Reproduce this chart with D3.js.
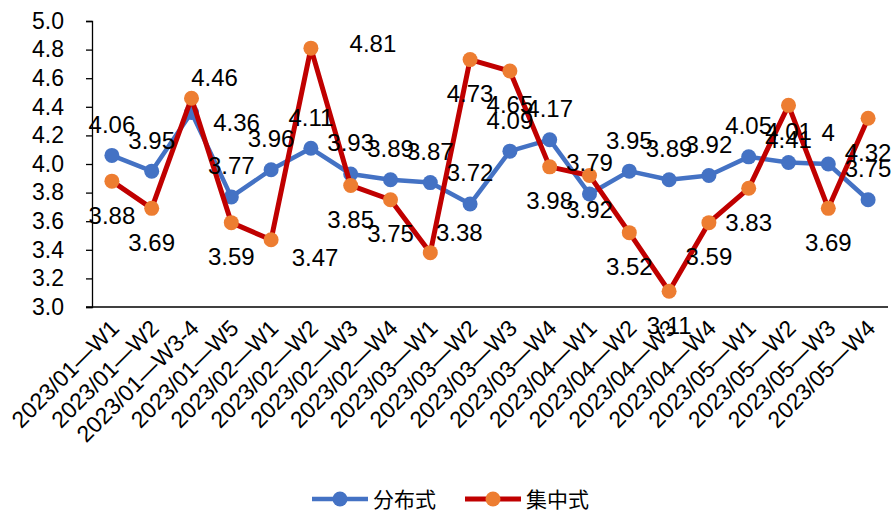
<!DOCTYPE html>
<html>
<head>
<meta charset="utf-8">
<script src="https://cdn.jsdelivr.net/npm/d3@7"></script>
<style>
  body { margin: 0; background: #fff; }
  text { font-family: "Liberation Sans", Arial, sans-serif; fill: #000; }
</style>
</head>
<body>
<svg id="chart" width="894" height="510"></svg>
<script>
// Kategorien und Werte
const categories = [
  "2023/01—W1", "2023/01—W2", "2023/01—W3-4", "2023/01—W5",
  "2023/02—W1", "2023/02—W2", "2023/02—W3", "2023/02—W4",
  "2023/03—W1", "2023/03—W2", "2023/03—W3", "2023/03—W4",
  "2023/04—W1", "2023/04—W2", "2023/04—W3", "2023/04—W4",
  "2023/05—W1", "2023/05—W2", "2023/05—W3", "2023/05—W4"
];
const fenbushi = [4.06, 3.95, 4.36, 3.77, 3.96, 4.11, 3.93, 3.89, 3.87, 3.72,
                  4.09, 4.17, 3.79, 3.95, 3.89, 3.92, 4.05, 4.01, 4, 3.75];
const jizhongshi = [3.88, 3.69, 4.46, 3.59, 3.47, 4.81, 3.85, 3.75, 3.38, 4.73,
                    4.65, 3.98, 3.92, 3.52, 3.11, 3.59, 3.83, 4.41, 3.69, 4.32];
const yTicks = [3.0, 3.2, 3.4, 3.6, 3.8, 4.0, 4.2, 4.4, 4.6, 4.8, 5.0];
const seriesNames = ["分布式", "集中式"];

const svg = d3.select("#chart");
const plot = { left: 92, right: 888, top: 21, bottom: 307 };

const x = d3.scaleBand()
  .domain(categories)
  .range([plot.left, plot.right]);

const y = d3.scaleLinear()
  .domain([3.0, 5.0])
  .range([plot.bottom, plot.top]);

const cx = d => x(d) + x.bandwidth() / 2;

// y Achse
const yAxis = svg.append("g")
  .attr("transform", `translate(${plot.left},0)`)
  .call(d3.axisLeft(y).tickValues(yTicks).tickFormat(d3.format(".1f")).tickSize(6).tickPadding(22));
yAxis.select(".domain").attr("stroke", "#000").attr("stroke-width", 1.3);
yAxis.selectAll(".tick line").attr("stroke", "#000").attr("stroke-width", 1.3);
yAxis.selectAll("text").style("font-size", "23px").attr("fill", "#000");

// x Achse
svg.append("line")
  .attr("x1", plot.left - 6).attr("x2", plot.right)
  .attr("y1", plot.bottom).attr("y2", plot.bottom)
  .attr("stroke", "#000").attr("stroke-width", 1.3);

svg.append("g").selectAll("text")
  .data(categories)
  .enter().append("text")
  .attr("transform", d => `translate(${cx(d) + 3},${plot.bottom + 17}) rotate(-45)`)
  .attr("text-anchor", "end")
  .attr("dy", "0.35em")
  .style("font-size", "23px")
  .text(d => d);

const series = [
  { name: seriesNames[0], values: fenbushi, line: "#4472C4", marker: "#4472C4", width: 4.5,
    dy: -31, special: { 2: [45, 10] } },
  { name: seriesNames[1], values: jizhongshi, line: "#C00000", marker: "#ED7D31", width: 5,
    dy: 34, special: { 2: [23, -21], 4: [44, 18], 5: [62, -5], 8: [29, -20] } }
];

const line = d3.line()
  .x((d, i) => cx(categories[i]))
  .y(d => y(d));

series.forEach(s => {
  svg.append("path")
    .datum(s.values)
    .attr("fill", "none")
    .attr("stroke", s.line)
    .attr("stroke-width", s.width)
    .attr("stroke-linejoin", "round")
    .attr("d", line);
  svg.append("g").selectAll("circle")
    .data(s.values)
    .enter().append("circle")
    .attr("cx", (d, i) => cx(categories[i]))
    .attr("cy", d => y(d))
    .attr("r", 7.5)
    .attr("fill", s.marker);
});

// Datenbeschriftung
series.forEach(s => {
  svg.append("g").selectAll("text")
    .data(s.values)
    .enter().append("text")
    .attr("x", (d, i) => cx(categories[i]) + (s.special[i] ? s.special[i][0] : 0))
    .attr("y", (d, i) => y(d) + (s.special[i] ? s.special[i][1] : s.dy))
    .attr("text-anchor", "middle")
    .attr("dy", "0.35em")
    .style("font-size", "24px")
    .text(d => d);
});

// Legende
const legend = svg.append("g");
const legendX = [312, 465];
series.forEach((s, i) => {
  const g = legend.append("g").attr("transform", `translate(${legendX[i]},499)`);
  g.append("line").attr("x1", 0).attr("x2", 56).attr("y1", 0).attr("y2", 0)
    .attr("stroke", s.line).attr("stroke-width", s.width);
  g.append("circle").attr("cx", 28).attr("cy", 0).attr("r", 7.5).attr("fill", s.marker);
  g.append("text").attr("x", 61).attr("dy", "0.36em")
    .style("font-family", "'Noto Sans CJK SC', sans-serif")
    .style("font-size", "21px")
    .text(s.name);
});
</script>
</body>
</html>
